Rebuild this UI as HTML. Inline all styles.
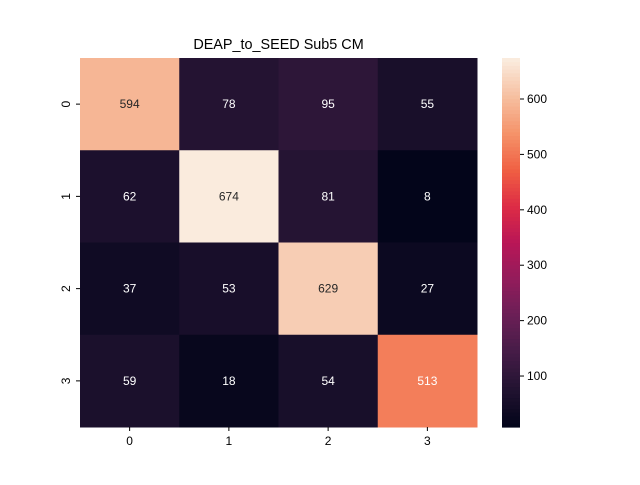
<!DOCTYPE html>
<html><head><meta charset="utf-8"><style>
body{margin:0;background:#fff;}
svg text{font-family:"Liberation Sans","DejaVu Sans",sans-serif;}
</style></head><body>
<svg id="chart" width="640" height="480" xmlns="http://www.w3.org/2000/svg">
<text x="278.5" y="49" font-size="14.4" text-anchor="middle" fill="#000">DEAP_to_SEED Sub5 CM</text>
<g id="cells"></g><g id="axes"></g><g id="cbar"></g>
</svg>
<script>
const rowLabels=["0","1","2","3"];
const colLabels=["0","1","2","3"];
const values=[[594,78,95,55],[62,674,81,8],[37,53,629,27],[59,18,54,513]];
const cbarTicks=[100,200,300,400,500,600];
const NS="http://www.w3.org/2000/svg";
const svg=document.getElementById('chart');
const X0=80,X1=477,Y0=58,Y1=427;
const flat=values.flat();const vmin=Math.min(...flat),vmax=Math.max(...flat);
const stops=[[3,5,26],[34,19,49],[69,28,71],[106,31,86],[146,28,91],[185,22,87],[221,44,69],[240,96,67],[245,147,106],[246,191,160],[250,235,221]];
function cmap(t){t=Math.max(0,Math.min(1,t));const p=t*10,i=Math.min(9,Math.floor(p)),f=p-i;const a=stops[i],b=stops[i+1];return a.map((c,k)=>Math.round(c+(b[k]-c)*f));}
function xs(j){return X0+j*(X1-X0)/colLabels.length;}
function ys(i){return Y0+i*(Y1-Y0)/rowLabels.length;}
function cy(v){return Y1-(v-vmin)/(vmax-vmin)*(Y1-Y0);}
function mk(tag,attrs,parent){const e=document.createElementNS(NS,tag);for(const k in attrs)e.setAttribute(k,attrs[k]);parent.appendChild(e);return e;}
const cells=document.getElementById('cells'),axes=document.getElementById('axes'),cb=document.getElementById('cbar');
const cw=(X1-X0)/colLabels.length,ch=(Y1-Y0)/rowLabels.length;
values.forEach((row,i)=>row.forEach((v,j)=>{
 const c=cmap((v-vmin)/(vmax-vmin));
 const r=mk('rect',{x:xs(j),y:ys(i),width:cw+0.5,height:ch+0.5,fill:`rgb(${c})`},cells);
 
 
 const lum=(0.299*c[0]+0.587*c[1]+0.114*c[2])/255;
 const t=mk('text',{x:xs(j)+cw/2,y:ys(i)+ch/2+4,'font-size':12,'text-anchor':'middle',fill:lum>0.7?'#262626':'#fff'},cells);
 t.textContent=v;
 
 
}));
colLabels.forEach((l,j)=>{const x=xs(j)+cw/2;mk('line',{x1:x,x2:x,y1:Y1,y2:Y1+4,stroke:'#000'},axes);
 const t=mk('text',{x:x,y:Y1+18,'font-size':12,'text-anchor':'middle'},axes);t.textContent=l;
 
 });
rowLabels.forEach((l,i)=>{const y=ys(i)+ch/2;mk('line',{x1:X0-4,x2:X0,y1:y,y2:y,stroke:'#000'},axes);
 const t=mk('text',{x:0,y:0,'font-size':12,'text-anchor':'middle',transform:`translate(${X0-10},${y}) rotate(-90)`},axes);t.textContent=l;
 
 });
const CX0=502,CX1=520,N=100;
for(let k=0;k<N;k++){const v0=vmin+(vmax-vmin)*k/N,v1=vmin+(vmax-vmin)*(k+1)/N;const c=cmap(k/(N-1));
 mk('rect',{x:CX0,y:cy(v1),width:CX1-CX0,height:cy(v0)-cy(v1)+0.6,fill:`rgb(${c})`},cb);}
cbarTicks.forEach(v=>{const y=cy(v);mk('line',{x1:CX1,x2:CX1+4,y1:y,y2:y,stroke:'#000'},cb);
 const t=mk('text',{x:CX1+7,y:y+4,'font-size':12},cb);t.textContent=v;
 
 });
</script>
</body></html>
